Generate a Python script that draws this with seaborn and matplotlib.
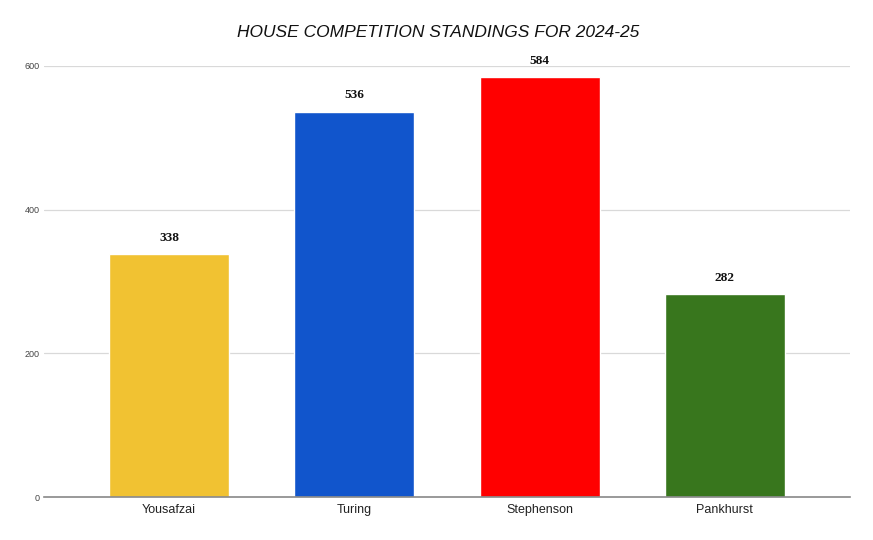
import matplotlib
matplotlib.use('Agg')
import matplotlib.pyplot as plt
import seaborn as sns
import pandas as pd

# chart data
houses = ['Yousafzai', 'Turing', 'Stephenson', 'Pankhurst']
points = [338, 536, 584, 282]
house_colours = ['#f1c232', '#1155cc', '#ff0000', '#38761d']
y_ticks = [0, 200, 400, 600]

df = pd.DataFrame({'House': houses, 'Points': points})

sns.set_theme(style='white')
plt.rcParams['font.family'] = ['Liberation Sans Narrow', 'Liberation Sans', 'DejaVu Sans']

fig = plt.figure(figsize=(8.73, 5.4), dpi=100)
ax = fig.add_axes([0.0504, 0.0796, 0.9232, 0.7982])

sns.barplot(data=df, x='House', y='Points', hue='House', palette=house_colours,
            width=0.648, saturation=1, legend=False, ax=ax)

ax.set_xlim(-0.675, 3.675)
ax.set_ylim(0, 600)
ax.set_yticks(y_ticks)
ax.set_yticklabels([str(t) for t in y_ticks], fontsize=6.5, color='#444444')
ax.tick_params(axis='x', labelsize=9, colors='#222222', length=0, pad=5)
ax.tick_params(axis='y', length=0, pad=3)
ax.set_xlabel('')
ax.set_ylabel('')

ax.grid(axis='y', color='#d9d9d9', linewidth=0.9)
ax.set_axisbelow(True)
for side in ['top', 'right', 'left']:
    ax.spines[side].set_visible(False)
ax.spines['bottom'].set_color('#888888')
ax.spines['bottom'].set_linewidth(1.2)

for i, v in enumerate(points):
    ax.annotate(str(v), (i, v), xytext=(0, 12), textcoords='offset points',
                ha='center', va='center', fontsize=9.5, fontweight='bold',
                family=['Liberation Serif', 'DejaVu Serif'], color='#111111',
                annotation_clip=False)

fig.text(0.502, 0.939, 'HOUSE COMPETITION STANDINGS FOR 2024-25',
         ha='center', va='center', fontsize=12.5, style='italic', color='#111111')

fig.savefig('out.png', dpi=100)
